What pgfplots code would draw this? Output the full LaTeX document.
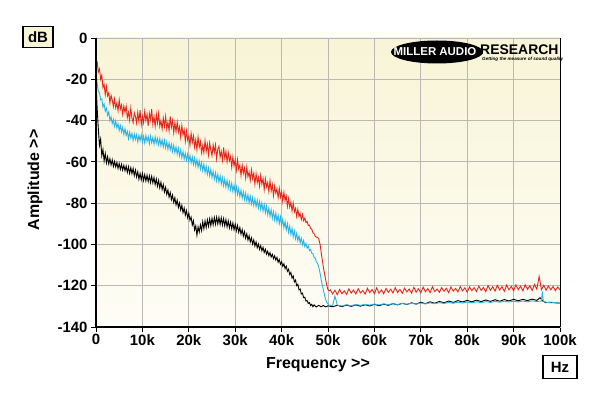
\documentclass[border=0pt]{standalone}
\usepackage{fontspec}
\setmainfont{Liberation Sans}
\usepackage{pgfplots}
\pgfplotsset{compat=1.18}
\definecolor{mred}{HTML}{E6261B}
\definecolor{mblue}{HTML}{2AB4E6}
\definecolor{creamtop}{HTML}{F8F4D6}
\definecolor{creambot}{HTML}{FEFDF6}
\definecolor{gridgray}{HTML}{B8B8B4}
\begin{document}
\begin{tikzpicture}
\useasboundingbox[fill=white] (-96bp,-69bp) rectangle (504bp,327bp);
\begin{axis}[
  at={(0,0)}, anchor=south west,
  scale only axis, width=464bp, height=289bp,
  xmin=0, xmax=100, ymin=-140, ymax=0,
  xtick={0,10,...,100},
  xticklabels={0,10k,20k,30k,40k,50k,60k,70k,80k,90k,100k},
  ytick={-140,-120,...,0},
  yticklabels={-140,-120,-100,-80,-60,-40,-20,0},
  tick label style={font=\fontsize{15}{17}\selectfont\bfseries},
  xtick pos=bottom, ytick pos=left,
  tick align=outside, major tick length=5bp,
  tick style={black, line width=0.8bp},
  xticklabel style={yshift=1bp},
  grid=major,
  major grid style={gridgray, line width=0.9bp},
  axis line style={gridgray, line width=0.9bp},
  axis background/.style={shade, top color=creamtop, bottom color=creambot},
  clip=true,
]
% black trace
\addplot[black, line width=0.9bp] table {
0 -22
0.25 -34
0.5 -44
0.75 -52
1 -49
1.25 -57
1.5 -54
1.75 -59.5
2 -56
2.25 -60.5
2.5 -57.5
2.75 -61
3 -58.5
3.25 -61.5
3.5 -59
3.75 -62.2
4 -59.8
4.25 -62.5
4.5 -60.3
4.75 -63.2
5 -60.8
5.25 -63.6
5.5 -61.2
5.75 -64
6 -61.7
6.25 -64.3
6.5 -62
6.75 -65.1
7 -62.4
7.25 -65.6
7.5 -62.8
7.75 -65.7
8 -63.2
8.25 -66.6
8.5 -64
8.75 -67.3
9 -64.8
9.25 -68.4
9.5 -65.6
9.75 -68.7
10 -65.6
10.25 -69
10.5 -66.2
10.75 -69.3
11 -66.5
11.25 -69.6
11.5 -66.8
11.75 -70
12 -67
12.25 -70.2
12.5 -67.6
12.75 -71
13 -68.3
13.25 -71.8
13.5 -69
13.75 -72.6
14 -69.9
14.25 -73.4
14.5 -71
14.75 -74.6
15 -72.3
15.25 -75.8
15.5 -73.6
15.75 -77.1
16 -74.9
16.25 -78.3
16.5 -76.1
16.75 -79.6
17 -77.4
17.25 -80.8
17.5 -78.6
17.75 -82.1
18 -79.9
18.25 -83.3
18.5 -81.1
18.75 -84.6
19 -82.4
19.25 -85.8
19.5 -83.6
19.75 -87.1
20 -84.9
20.25 -88.3
20.5 -86.8
20.75 -90.6
21 -88.5
21.25 -93
21.5 -91
21.75 -95.5
22 -91.5
22.25 -94
22.5 -90.5
22.75 -93.3
23 -89
23.25 -92.4
23.5 -88.6
23.75 -91.8
24 -88.1
24.25 -91.2
24.5 -87.6
24.75 -90.9
25 -87.3
25.25 -90.5
25.5 -87
25.75 -90.2
26 -86.8
26.25 -90.1
26.5 -86.9
26.75 -90.3
27 -87.1
27.25 -90.6
27.5 -87.5
27.75 -91
28 -88
28.25 -91.5
28.5 -88.6
28.75 -92
29 -89.2
29.25 -92.4
29.5 -89.6
29.75 -92.9
30 -90.2
30.25 -93.4
30.5 -90.8
30.75 -94.1
31 -91.8
31.25 -95
31.5 -92.8
31.75 -96
32 -93.8
32.25 -97
32.5 -94.8
32.75 -97.9
33 -95.8
33.25 -98.8
33.5 -96.8
33.75 -99.8
34 -97.8
34.25 -100.8
34.5 -98.8
34.75 -101.6
35 -99.8
35.25 -102.4
35.5 -100.6
35.75 -103.1
36 -101.4
36.25 -103.9
36.5 -102.3
36.75 -104.7
37 -103.3
37.25 -105.4
37.5 -104
37.75 -106.1
38 -104.8
38.25 -106.9
38.5 -105.5
38.75 -107.6
39 -106.3
39.25 -108.6
39.5 -107.3
39.75 -109.6
40 -108.4
40.25 -110.6
40.5 -109.4
40.75 -111.7
41 -110.5
41.25 -113
41.5 -112
41.75 -114.6
42 -113.6
42.25 -116.3
42.5 -115.3
42.75 -118.2
43 -117.3
43.25 -120
43.5 -119.3
43.75 -122
44 -121.6
44.25 -124
44.5 -123.6
44.75 -125.8
45 -125.6
45.25 -127.4
45.5 -127.2
45.75 -128.6
46 -128.2
46.25 -129.6
46.5 -129
46.75 -130.2
47 -129.3
47.5 -130.3
48 -129.5
48.5 -130.2
49 -129.6
49.5 -130.3
50 -129.7
51 -130.2
52 -129.5
53 -130.1
54 -129.4
55 -130.0
56 -129.3
57 -129.9
58 -129.2
59 -129.8
60 -129.0
61 -129.7
62 -128.9
63 -129.5
64 -128.7
65 -129.3
66 -128.5
67 -129.1
68 -128.3
69 -128.9
70 -128.0
71 -128.7
72 -127.8
73 -128.5
74 -127.6
75 -128.3
76 -127.4
77 -128.1
78 -127.2
79 -127.9
80 -127.1
81 -127.8
82 -127.0
83 -127.7
84 -126.9
85 -127.6
86 -126.8
87 -127.5
88 -126.7
89 -127.4
90 -126.6
91 -127.3
92 -126.6
93 -127.2
94 -126.5
95 -127.1
95.7 -125.8
96.3 -127.5
97 -128.2
98 -128.0
99 -128.3
100 -128.4
};
% blue trace
\addplot[mblue, line width=0.9bp] table {
0 -15
0.25 -22
0.5 -26
0.75 -26.5
1 -30
1.25 -29.5
1.5 -33.5
1.75 -32
2 -35.5
2.25 -34
2.5 -37.5
2.75 -35.8
3 -40
3.25 -38.2
3.5 -41.5
3.75 -39.5
4 -42.8
4.25 -40.2
4.5 -43.5
4.75 -41.5
5 -44.8
5.25 -42.4
5.5 -45.5
5.75 -43.2
6 -46.7
6.25 -44
6.5 -47.2
6.75 -45.3
7 -48.8
7.25 -45.6
7.5 -48.4
7.75 -46.2
8 -49.6
8.25 -46.5
8.5 -49.2
8.75 -46.8
9 -50.3
9.25 -47.1
9.5 -49.8
9.75 -46.9
10 -50.4
10.25 -47.6
10.5 -50.8
10.75 -47.2
11 -50.1
11.25 -47.8
11.5 -51.2
11.75 -47.5
12 -50.7
12.25 -48.2
12.5 -51.4
12.75 -47.9
13 -51
13.25 -48.6
13.5 -51.8
13.75 -48.7
14 -52.2
14.25 -49.3
14.5 -52.7
14.75 -49.6
15 -53.2
15.25 -50.2
15.5 -53.9
15.75 -50.8
16 -54.2
16.25 -51.5
16.5 -55
16.75 -52
17 -55.6
17.25 -52.8
17.5 -56.3
17.75 -53.4
18 -57.1
18.25 -54.2
18.5 -57.9
18.75 -55
19 -58.6
19.25 -55.8
19.5 -59.2
19.75 -56.3
20 -59.8
20.25 -56.9
20.5 -60.5
20.75 -57.6
21 -61.2
21.25 -58.2
21.5 -61.9
21.75 -58.8
22 -62.6
22.25 -59.6
22.5 -63.5
22.75 -60.4
23 -64.3
23.25 -61.2
23.5 -65.1
23.75 -62.1
24 -66
24.25 -62.9
24.5 -66.8
24.75 -63.7
25 -67.6
25.25 -64.6
25.5 -68.4
25.75 -65.3
26 -69.2
26.25 -66
26.5 -69.9
26.75 -66.8
27 -70.7
27.25 -67.6
27.5 -71.5
27.75 -68.3
28 -72.2
28.25 -69
28.5 -72.9
28.75 -69.7
29 -73.6
29.25 -70.4
29.5 -74.3
29.75 -71.2
30 -75.1
30.25 -72
30.5 -75.9
30.75 -72.9
31 -76.8
31.25 -73.7
31.5 -77.6
31.75 -74.5
32 -78.3
32.25 -75.2
32.5 -79
32.75 -75.9
33 -79.8
33.25 -76.6
33.5 -80.4
33.75 -77.3
34 -81.1
34.25 -77.9
34.5 -81.7
34.75 -78.6
35 -82.4
35.25 -79.2
35.5 -83.1
35.75 -79.9
36 -83.8
36.25 -80.7
36.5 -84.7
36.75 -81.5
37 -85.6
37.25 -82.4
37.5 -86.4
37.75 -83.2
38 -87.3
38.25 -84.1
38.5 -88.1
38.75 -84.9
39 -89
39.25 -85.8
39.5 -89.9
39.75 -86.7
40 -90.8
40.25 -87.8
40.5 -91.9
40.75 -88.9
41 -93
41.25 -90
41.5 -94.1
41.75 -91.1
42 -95.2
42.25 -92.2
42.5 -96.3
42.75 -93.3
43 -97.3
43.25 -94.7
43.5 -98.2
43.75 -95.8
44 -99.2
44.25 -97
44.5 -100.1
44.75 -98.1
45 -101
45.25 -99.5
45.5 -101.8
45.75 -100.8
46 -103
46.25 -102.4
46.5 -104.3
46.75 -104.4
47 -106.2
47.25 -106.6
47.5 -108.4
47.75 -109.2
48 -111
48.3 -114
48.6 -118
49 -122
49.3 -125
49.7 -128
50.2 -129.5
51 -129.6
51.5 -125
52 -129.4
53 -129.8
54 -129.2
55 -129.7
56 -129.1
57 -129.5
58 -129.0
59 -129.4
60 -128.9
61 -129.3
62 -128.8
63 -129.2
64 -128.7
65 -129.1
66 -128.6
67 -129.0
68 -128.5
69 -128.9
70 -128.4
71 -128.8
72 -128.3
73 -128.7
74 -128.2
75 -128.6
76 -128.1
77 -128.5
78 -128.0
79 -128.4
80 -127.9
81 -128.3
82 -127.8
83 -128.2
84 -127.7
85 -128.1
86 -127.6
87 -128.0
88 -127.5
89 -127.9
90 -127.5
91 -127.9
92 -127.4
93 -127.8
94 -127.3
95 -127.7
96 -127.4
96.2 -122.8
96.4 -127.5
97 -128.0
98 -128.3
99 -128.1
100 -128.6
};
% red trace
\addplot[mred, line width=0.9bp] table {
0 -11
0.25 -11.5
0.5 -16.5
0.75 -15
1 -20
1.25 -18
1.5 -24
1.75 -22.5
2 -27.5
2.25 -23.5
2.5 -28
2.75 -26.5
3 -31.5
3.25 -27.8
3.5 -30
3.75 -33.2
4 -29.5
4.25 -33.8
4.5 -31.5
4.75 -35.2
5 -30
5.25 -34.5
5.5 -32.5
5.75 -37
6 -33
6.25 -36
6.5 -33
6.75 -38.5
7 -36
7.25 -39.8
7.5 -34
7.75 -38.8
8 -41
8.25 -36.2
8.5 -38
8.75 -41.2
9 -36
9.25 -40.5
9.5 -35
9.75 -42
10 -38
10.25 -41
10.5 -35.5
10.75 -40
11 -37
11.25 -42.5
11.5 -36.5
11.75 -39.5
12 -34.5
12.25 -41.8
12.5 -38
12.75 -42.8
13 -37
13.25 -41.2
13.5 -36.5
13.75 -42.8
14 -40
14.25 -44.1
14.5 -38.8
14.75 -42.9
15 -38
15.25 -44.1
15.5 -40.8
15.75 -44.9
16 -38
16.25 -43.2
16.5 -40
16.75 -45.8
17 -41
17.25 -45.4
17.5 -40.8
17.75 -45.6
18 -43
18.25 -48
18.5 -42.5
18.75 -47
19 -44.5
19.25 -50
19.5 -45
19.75 -49.5
20 -47.5
20.25 -51.9
20.5 -46.2
20.75 -50.6
21 -47.5
21.25 -52.9
21.5 -49.2
21.75 -54.1
22 -48
22.25 -52.9
22.5 -50.2
22.75 -55.6
23 -52
23.25 -55.6
23.5 -49.8
23.75 -54.9
24 -51.5
24.25 -56.6
24.5 -50.8
24.75 -54.4
25 -57
25.25 -51.8
25.5 -55.5
25.75 -51.8
26 -58.5
26.25 -53.8
26.5 -52.5
26.75 -57.8
27 -55
27.25 -59.2
27.5 -53
27.75 -58.2
28 -55
28.25 -60
28.5 -55.5
28.75 -59.5
29 -57.5
29.25 -62.5
29.5 -57.5
29.75 -62
30 -59
30.25 -64
30.5 -59
30.75 -63.5
31 -61.5
31.25 -66.5
31.5 -61.5
31.75 -65.5
32 -63
32.25 -67.8
32.5 -62.5
32.75 -67.2
33 -65
33.25 -68.9
33.5 -63.8
33.75 -68.1
34 -65.5
34.25 -70.9
34.5 -65.8
34.75 -70.1
35 -67.5
35.25 -71.8
35.5 -66.5
35.75 -70.8
36 -68
36.25 -73.4
36.5 -68.2
36.75 -72.1
37 -70
37.25 -74.4
37.5 -69.2
37.75 -74.1
38 -71
38.25 -76.4
38.5 -71.8
38.75 -75.1
39 -73
39.25 -77.4
39.5 -72.8
39.75 -77.1
40 -74.5
40.25 -79.1
40.5 -74.8
40.75 -78.9
41 -76.5
41.25 -81.6
41.5 -77.8
41.75 -81.9
42 -79.5
42.25 -83.8
42.5 -80
42.75 -84.2
43 -82.5
43.25 -86.5
43.5 -83
43.75 -86.5
44 -85
44.25 -88
44.5 -85.5
44.75 -88.5
45 -87.2
45.25 -89.4
45.5 -88.9
45.75 -90.8
46 -90.6
46.25 -92.3
46.5 -92.6
46.75 -94.3
47 -94.8
47.25 -96
47.5 -96.5
47.75 -96.6
48 -97.3
48.3 -100
48.6 -105
49 -111
49.4 -116
49.7 -119.5
50 -122
50.3 -122.5
50.5 -122.0
51 -124.0
51.5 -122.2
52 -124.3
52.5 -121.8
53 -123.9
53.5 -122.5
54 -124.2
54.5 -121.5
55 -123.6
55.5 -122.1
56 -124.0
56.5 -121.4
57 -123.5
57.5 -122.3
58 -124.1
58.5 -121.2
59 -123.4
59.5 -121.9
60 -123.8
60.5 -121.0
61 -123.6
61.5 -122.0
62 -123.9
62.5 -121.3
63 -123.2
63.5 -121.7
64 -123.5
64.5 -120.9
65 -123.3
65.5 -121.8
66 -123.7
66.5 -121.2
67 -123.0
67.5 -121.6
68 -123.6
68.5 -120.8
69 -123.1
69.5 -121.5
70 -123.4
70.5 -120.7
71 -122.9
71.5 -121.4
72 -123.3
72.5 -120.5
73 -122.8
73.5 -121.6
74 -123.2
74.5 -120.9
75 -122.7
75.5 -121.2
76 -123.4
76.5 -120.6
77 -122.6
77.5 -121.3
78 -123.0
78.5 -120.4
79 -122.5
79.5 -121.0
80 -123.1
80.5 -120.6
81 -122.4
81.5 -120.9
82 -122.8
82.5 -120.2
83 -122.3
83.5 -120.8
84 -122.9
84.5 -119.9
85 -122.2
85.5 -120.5
86 -122.6
86.5 -119.8
87 -122.1
87.5 -120.4
88 -122.7
88.5 -119.7
89 -122.0
89.5 -120.3
90 -122.4
90.5 -119.6
91 -121.9
91.5 -120.2
92 -122.5
92.5 -119.5
93 -121.8
93.5 -120.0
94 -122.3
94.5 -119.4
95 -121.7
95.5 -115.5
96 -121.9
96.5 -119.8
97 -122.2
97.5 -120.1
98 -122.0
98.5 -120.4
99 -122.4
99.5 -120.6
100 -122.0
};
\end{axis}
% heavier left and bottom axis lines, thin black right edge
\draw[black, line width=0.8bp] (464bp,0) -- (464bp,289bp);
\draw[black, line width=2bp] (0,289bp) -- (0,0) -- (464bp,0);
% axis titles
\node[font=\fontsize{16}{18}\selectfont\bfseries] at (222bp,-38bp) {Frequency >{}>};
\node[font=\fontsize{16}{18}\selectfont\bfseries, rotate=90] at (-61bp,147bp) {Amplitude >{}>};
% unit boxes
\node[draw=black, line width=1.2bp, fill=creamtop, inner sep=2.5bp, minimum width=30bp, minimum height=21bp, font=\fontsize{15}{17}\selectfont\bfseries] at (-58bp,290bp) {dB};
\node[draw=black, line width=1.2bp, fill=white, inner sep=2.5bp, minimum width=34bp, minimum height=23bp, font=\fontsize{15}{17}\selectfont\bfseries] at (464bp,-40bp) {Hz};
% logo
\fill[black] (341bp,275bp) ellipse (46bp and 11.5bp);
\node[white, font=\fontsize{11.5}{13}\selectfont\bfseries, inner sep=0pt] at (339bp,275bp) {MILLER AUDIO};
\node[black, anchor=west, font=\fontsize{14}{15}\selectfont\bfseries, inner sep=0pt] at (384bp,277.5bp) {RESEARCH};
\node[black, anchor=west, font=\fontsize{4.6}{5}\selectfont\bfseries\itshape, inner sep=0pt] at (386bp,267.5bp) {Getting the measure of sound quality};
\end{tikzpicture}
\end{document}
